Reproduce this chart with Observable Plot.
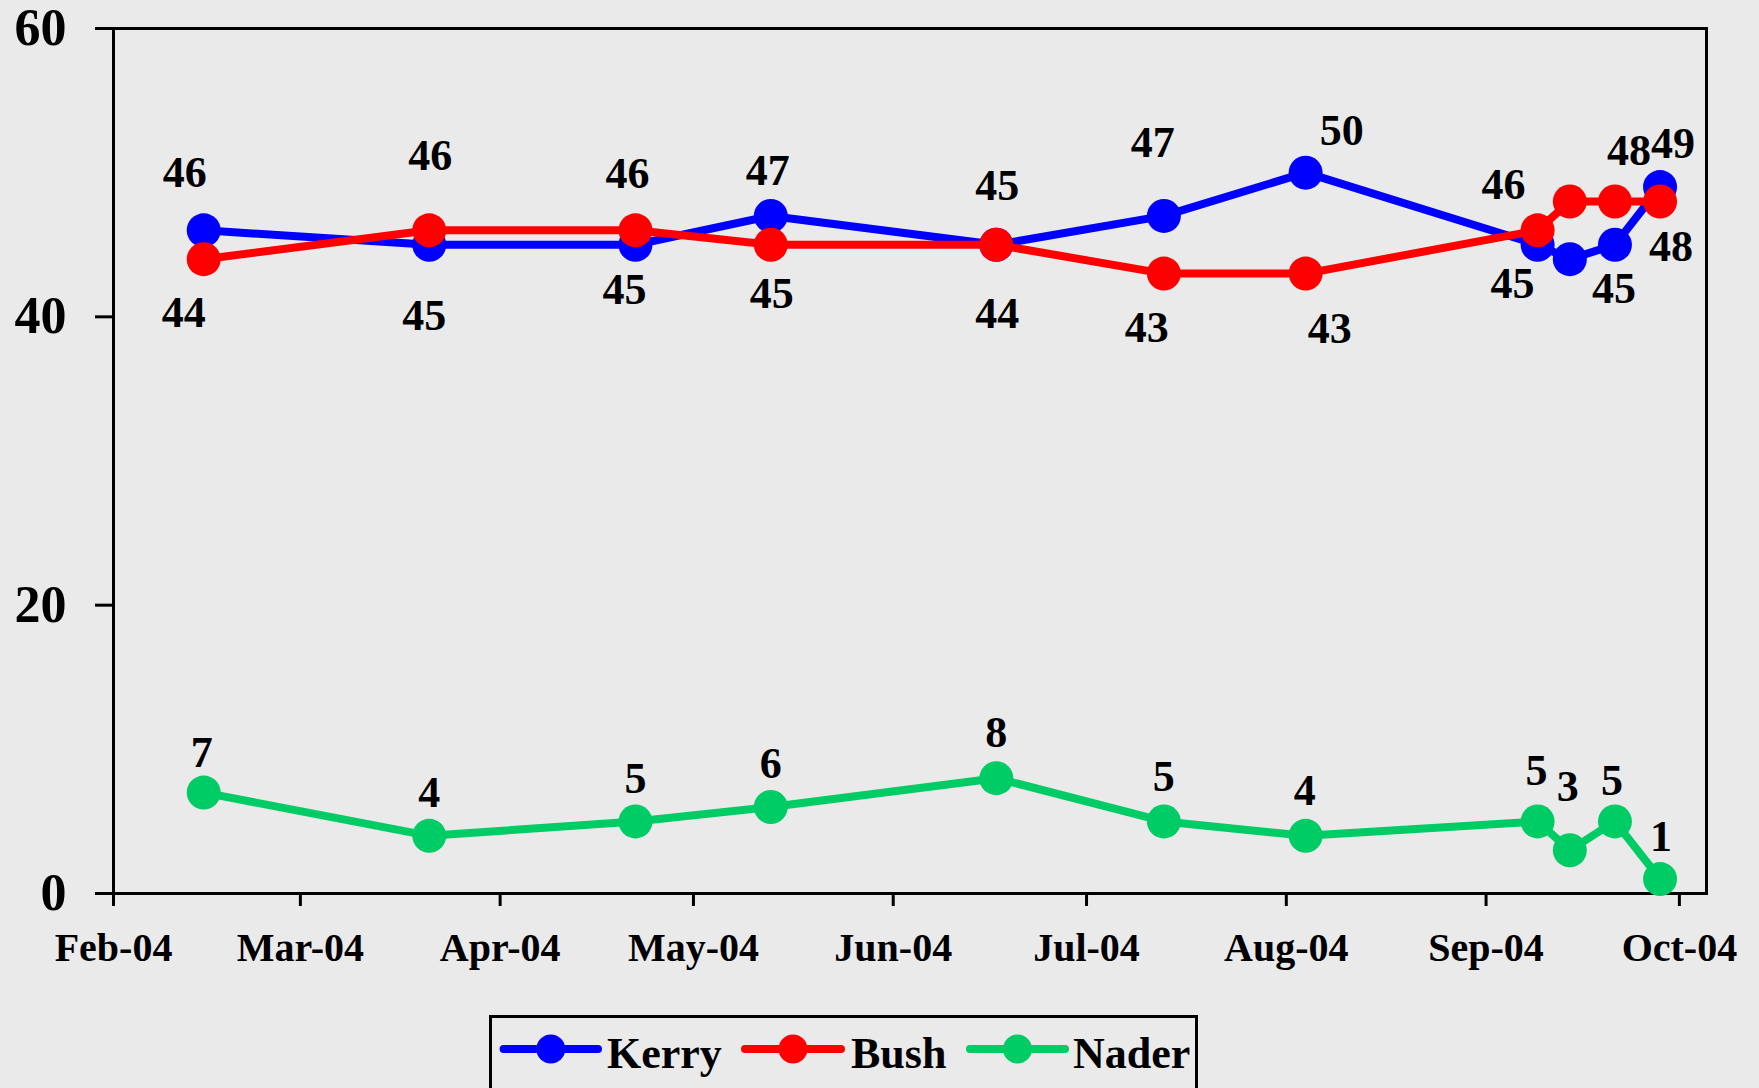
<!DOCTYPE html>
<html>
<head>
<meta charset="utf-8">
<script src="https://cdn.jsdelivr.net/npm/d3@7"></script>
<script src="https://cdn.jsdelivr.net/npm/@observablehq/plot@0.6"></script>
<style>
html, body { margin: 0; padding: 0; background: #EAEAEA; }
#chart { width: 1759px; height: 1088px; position: relative; overflow: hidden; background: #EAEAEA; }
#legend { position: absolute; left: 489px; top: 1015px; width: 703px; height: 80px; border: 3px solid #000; }
#legend svg { display: block; }
</style>
</head>
<body>
<div id="chart"></div>
<script>
// ---- data ----
const dates = ["2004-02-15","2004-03-21","2004-04-22","2004-05-13","2004-06-17","2004-07-13","2004-08-04","2004-09-09","2004-09-14","2004-09-21","2004-09-28"];
const kerry = [46,45,45,47,45,47,50,45,44,45,49];
const bush  = [44,46,46,45,45,43,43,46,48,48,48];
const nader = [7,4,5,6,8,5,4,5,3,5,1];
const kerryLabels = ["46","45","45","47","45","47","50","45",null,"45","49"];
const bushLabels  = ["44","46","46","45","44","43","43","46",null,"48","48"];
const naderLabels = ["7","4","5","6","8","5","4","5","3","5","1"];
const seriesNames = ["Kerry","Bush","Nader"];
const seriesColors = ["#0000FF","#FF0000","#00CC66"];
const yTicks = [0,20,40,60];
const xTicks = ["2004-02-01","2004-03-01","2004-04-01","2004-05-01","2004-06-01","2004-07-01","2004-08-01","2004-09-01","2004-10-01"];

// label nudges (pixels, relative to each point)
const kerryNudge = [[-19,-57],[-5,71],[-11,45],[-3,-45],[1,-59],[-11,-73],[36,-42],[-25,39],[0,0],[-1,44],[13,-43]];
const bushNudge  = [[-20,54],[1,-74],[-8,-56],[1,49],[1,69],[-17,54],[24,55],[-34,-45],[0,0],[14,-51],[11,45]];
const naderNudge = [[-2,-40],[0,-43],[0,-43],[0,-43],[0,-45],[0,-45],[-1,-45],[-1,-51],[-2,-63],[-3,-41],[1,-42]];

// ---- build ----
const toRows = (vals, labels, nudges, name) =>
  dates.map((d, i) => ({date: new Date(d), value: vals[i], label: labels[i], dx: nudges[i][0], dy: nudges[i][1], series: name}));

const series = [
  toRows(kerry, kerryLabels, kerryNudge, seriesNames[0]),
  toRows(bush, bushLabels, bushNudge, seriesNames[1]),
  toRows(nader, naderLabels, naderNudge, seriesNames[2])
];

const font = "'Liberation Serif', 'Times New Roman', serif";
const marks = [
  Plot.axisY({ticks: yTicks, tickSize: 18, tickPadding: 29, fontSize: 52, strokeWidth: 3, tickFormat: d => String(d), label: null}),
  Plot.axisX({ticks: xTicks.map(d => new Date(d)), tickSize: 13, tickPadding: 26, fontSize: 40, strokeWidth: 3, tickFormat: d3.utcFormat("%b-%y"), label: null}),
  Plot.frame({stroke: "#000", strokeWidth: 3})
];
series.forEach((rows, s) => {
  marks.push(Plot.line(rows, {x: "date", y: "value", stroke: seriesColors[s], strokeWidth: 8, strokeLinejoin: "round"}));
  marks.push(Plot.dot(rows, {x: "date", y: "value", r: 17, fill: seriesColors[s], stroke: "none"}));
});
series.forEach(rows => {
  rows.filter(r => r.label != null).forEach(r => {
    marks.push(Plot.text([r], {x: "date", y: "value", text: "label", dx: r.dx, dy: r.dy, fontSize: 44, fill: "#000", textAnchor: "middle", lineAnchor: "middle"}));
  });
});

const plot = Plot.plot({
  width: 1759,
  height: 1000,
  marginLeft: 113,
  marginRight: 53,
  marginTop: 28,
  marginBottom: 107,
  style: {background: "#EAEAEA", fontFamily: font, fontWeight: "bold", color: "#000"},
  x: {type: "utc", domain: [new Date("2004-02-01"), new Date(Date.UTC(2004, 9, 5, 5))]},
  y: {domain: [0, 60]},
  marks
});
const chart = document.getElementById("chart");
chart.appendChild(plot);

// ---- legend ----
const legend = document.createElement("div");
legend.id = "legend";
const offsets = [[11.6, 106, 115], [253, 349, 359], [478, 573, 581]];
let svgLegend = `<svg width="703" height="74" xmlns="http://www.w3.org/2000/svg" style="overflow:visible">`;
seriesNames.forEach((name, i) => {
  const [x0, x1, tx] = offsets[i];
  svgLegend += `<line x1="${x0}" x2="${x1}" y1="31" y2="31" stroke="${seriesColors[i]}" stroke-width="8" stroke-linecap="round"/>`;
  svgLegend += `<circle cx="${(x0 + x1) / 2}" cy="31" r="14.5" fill="${seriesColors[i]}"/>`;
  svgLegend += `<text x="${tx}" y="50" font-family="${font.replace(/'/g, "&apos;")}" font-weight="bold" font-size="44" fill="#000">${name}</text>`;
});
svgLegend += `</svg>`;
legend.innerHTML = svgLegend;
chart.appendChild(legend);
</script>
</body>
</html>
